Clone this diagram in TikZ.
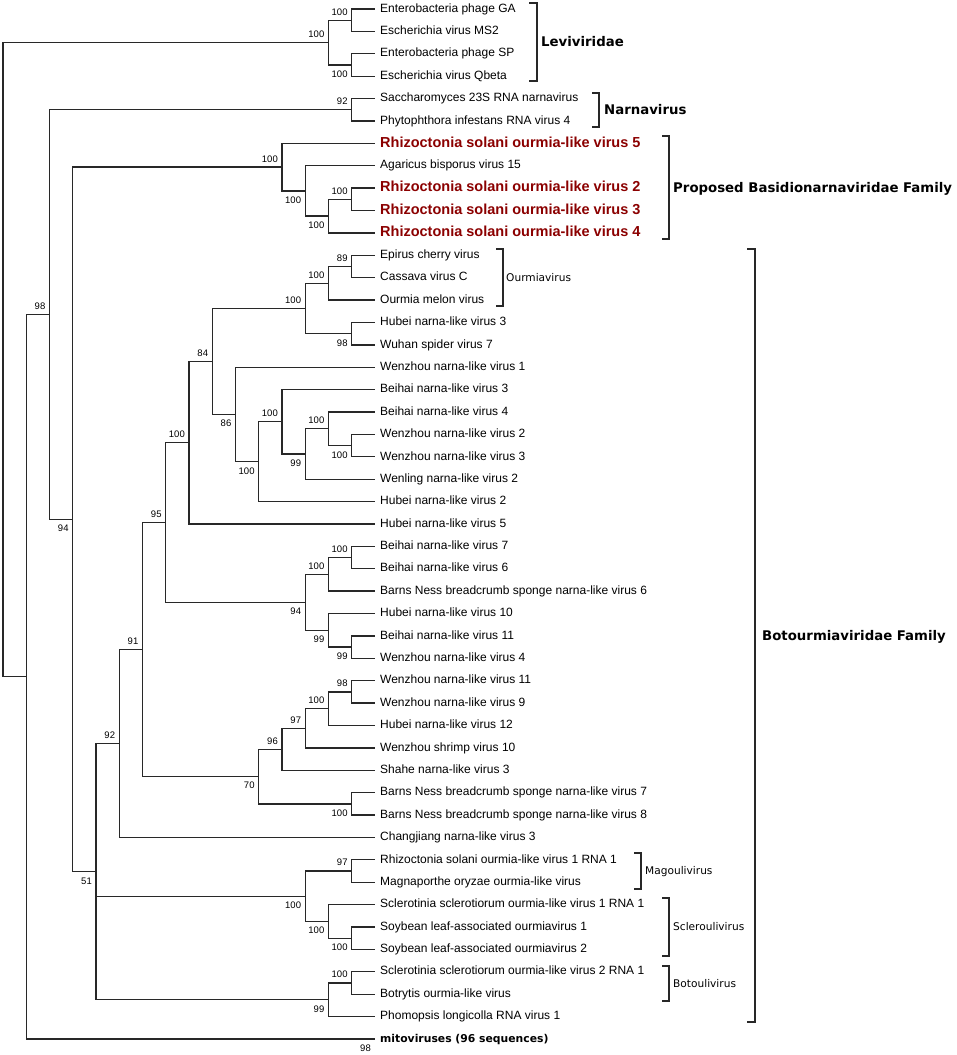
\documentclass[tikz,border=0pt]{standalone}
\usepackage{fontspec}
\setmainfont{Liberation Sans}
\newfontfamily\dvs{DejaVu Sans}
\usetikzlibrary{calc}
\definecolor{rsred}{RGB}{139,0,0}
\definecolor{treeline}{RGB}{40,40,40}
\tikzset{
  branch/.style={draw=treeline, line width=1.3pt},
  bracket/.style={draw=treeline, line width=1.3pt},
  leaf/.style={anchor=west, inner xsep=5pt, inner ysep=0pt, font=\fontsize{12}{14}\selectfont, text height=9pt, text depth=2.6pt},
  redleaf/.style={leaf, font=\fontsize{14.5}{16}\selectfont\bfseries, text=rsred, text height=10.6pt, text depth=3pt},
  mito/.style={leaf, font=\dvs\bfseries\fontsize{10.8}{12}\selectfont, text height=8pt, text depth=1.6pt},
  bs/.style={anchor=east, inner sep=0pt, font=\fontsize{9.5}{10}\selectfont, text height=6.8pt, text depth=0pt},
  grp/.style={anchor=west, inner sep=0pt, font=\dvs\bfseries\fontsize{13.3}{15}\selectfont, text height=9.7pt, text depth=0pt},
  genus/.style={anchor=west, inner sep=0pt, font=\dvs\fontsize{10.6}{12}\selectfont, text height=7.7pt, text depth=0pt},
}
\newcommand{\bsa}[3]{\node[bs] (#3) at ($(#1)+(-4,-8.5)$) {#2};}
\newcommand{\bsb}[3]{\node[bs] (#3) at ($(#1)+(-4,9)$) {#2};}
\begin{document}
\begin{tikzpicture}[x=1pt,y=-1pt]
\useasboundingbox (0,0) rectangle (957,1055);
% ---------- leaves ----------
\node[leaf] (L1) at (375,9.00) {Enterobacteria phage GA};
\node[leaf] (L2) at (375,31.39) {Escherichia virus MS2};
\node[leaf] (L3) at (375,53.78) {Enterobacteria phage SP};
\node[leaf] (L4) at (375,76.17) {Escherichia virus Qbeta};
\node[leaf] (L5) at (375,98.56) {Saccharomyces 23S RNA narnavirus};
\node[leaf] (L6) at (375,120.95) {Phytophthora infestans RNA virus 4};
\node[redleaf] (L7) at (375,143.34) {Rhizoctonia solani ourmia-like virus 5};
\node[leaf] (L8) at (375,165.73) {Agaricus bisporus virus 15};
\node[redleaf] (L9) at (375,188.12) {Rhizoctonia solani ourmia-like virus 2};
\node[redleaf] (L10) at (375,210.51) {Rhizoctonia solani ourmia-like virus 3};
\node[redleaf] (L11) at (375,232.90) {Rhizoctonia solani ourmia-like virus 4};
\node[leaf] (L12) at (375,255.29) {Epirus cherry virus};
\node[leaf] (L13) at (375,277.68) {Cassava virus C};
\node[leaf] (L14) at (375,300.07) {Ourmia melon virus};
\node[leaf] (L15) at (375,322.46) {Hubei narna-like virus 3};
\node[leaf] (L16) at (375,344.85) {Wuhan spider virus 7};
\node[leaf] (L17) at (375,367.24) {Wenzhou narna-like virus 1};
\node[leaf] (L18) at (375,389.63) {Beihai narna-like virus 3};
\node[leaf] (L19) at (375,412.02) {Beihai narna-like virus 4};
\node[leaf] (L20) at (375,434.41) {Wenzhou narna-like virus 2};
\node[leaf] (L21) at (375,456.80) {Wenzhou narna-like virus 3};
\node[leaf] (L22) at (375,479.19) {Wenling narna-like virus 2};
\node[leaf] (L23) at (375,501.58) {Hubei narna-like virus 2};
\node[leaf] (L24) at (375,523.97) {Hubei narna-like virus 5};
\node[leaf] (L25) at (375,546.36) {Beihai narna-like virus 7};
\node[leaf] (L26) at (375,568.75) {Beihai narna-like virus 6};
\node[leaf] (L27) at (375,591.14) {Barns Ness breadcrumb sponge narna-like virus 6};
\node[leaf] (L28) at (375,613.53) {Hubei narna-like virus 10};
\node[leaf] (L29) at (375,635.92) {Beihai narna-like virus 11};
\node[leaf] (L30) at (375,658.31) {Wenzhou narna-like virus 4};
\node[leaf] (L31) at (375,680.70) {Wenzhou narna-like virus 11};
\node[leaf] (L32) at (375,703.09) {Wenzhou narna-like virus 9};
\node[leaf] (L33) at (375,725.48) {Hubei narna-like virus 12};
\node[leaf] (L34) at (375,747.87) {Wenzhou shrimp virus 10};
\node[leaf] (L35) at (375,770.26) {Shahe narna-like virus 3};
\node[leaf] (L36) at (375,792.65) {Barns Ness breadcrumb sponge narna-like virus 7};
\node[leaf] (L37) at (375,815.04) {Barns Ness breadcrumb sponge narna-like virus 8};
\node[leaf] (L38) at (375,837.43) {Changjiang narna-like virus 3};
\node[leaf] (L39) at (375,859.82) {Rhizoctonia solani ourmia-like virus 1 RNA 1};
\node[leaf] (L40) at (375,882.21) {Magnaporthe oryzae ourmia-like virus};
\node[leaf] (L41) at (375,904.60) {Sclerotinia sclerotiorum ourmia-like virus 1 RNA 1};
\node[leaf] (L42) at (375,926.99) {Soybean leaf-associated ourmiavirus 1};
\node[leaf] (L43) at (375,949.38) {Soybean leaf-associated ourmiavirus 2};
\node[leaf] (L44) at (375,971.77) {Sclerotinia sclerotiorum ourmia-like virus 2 RNA 1};
\node[leaf] (L45) at (375,994.16) {Botrytis ourmia-like virus};
\node[leaf] (L46) at (375,1016.55) {Phomopsis longicolla RNA virus 1};
\node[mito] (L47) at (375,1038.94) {mitoviruses (96 sequences)};
% ---------- internal nodes ----------
\coordinate (R) at (3,359.67);
\coordinate (A) at (328.5,42.585);
\coordinate (A1) at (351.75,20.195);
\coordinate (A2) at (351.75,64.975);
\coordinate (N1) at (26.25,676.75);
\coordinate (N2) at (49.5,314.57);
\coordinate (Na) at (351.75,109.755);
\coordinate (N3) at (72.75,519.38);
\coordinate (B) at (282,167.13);
\coordinate (B1) at (305.25,190.92);
\coordinate (B2) at (328.5,216.11);
\coordinate (B3) at (351.75,199.315);
\coordinate (N4) at (96,871.62);
\coordinate (N5) at (119.25,743.49);
\coordinate (N6) at (142.5,649.54);
\coordinate (N7) at (165.75,522.53);
\coordinate (N8) at (189,442.72);
\coordinate (N9) at (212.25,361.47);
\coordinate (N10) at (305.25,308.47);
\coordinate (N10a) at (328.5,283.28);
\coordinate (N10c) at (351.75,266.485);
\coordinate (N10b) at (351.75,333.655);
\coordinate (N11) at (235.5,414.47);
\coordinate (N12) at (258.75,461.70);
\coordinate (N13) at (282,421.82);
\coordinate (N13a) at (305.25,454.00);
\coordinate (N13b) at (328.5,428.81);
\coordinate (N13c) at (351.75,445.605);
\coordinate (N14) at (305.25,602.335);
\coordinate (N15) at (328.5,574.35);
\coordinate (N15a) at (351.75,557.555);
\coordinate (N16) at (328.5,630.32);
\coordinate (N16a) at (351.75,647.115);
\coordinate (N20) at (258.75,776.56);
\coordinate (N21) at (282,749.27);
\coordinate (N22) at (305.25,728.28);
\coordinate (N23) at (328.5,708.69);
\coordinate (N23a) at (351.75,691.895);
\coordinate (N24) at (351.75,803.845);
\coordinate (M) at (305.25,896.20);
\coordinate (Mg) at (351.75,871.015);
\coordinate (Sc) at (328.5,921.39);
\coordinate (Sc2) at (351.75,938.185);
\coordinate (Bo) at (328.5,999.76);
\coordinate (Bo1) at (351.75,982.965);
% ---------- branches ----------
\draw[branch] (R) |- (A);  \draw[branch] (R) |- (N1);
\draw[branch] (A) |- (A1); \draw[branch] (A) |- (A2);
\draw[branch] (A1) |- (L1.west); \draw[branch] (A1) |- (L2.west);
\draw[branch] (A2) |- (L3.west); \draw[branch] (A2) |- (L4.west);
\draw[branch] (N1) |- (N2); \draw[branch] (N1) |- (L47.west);
\draw[branch] (N2) |- (Na); \draw[branch] (N2) |- (N3);
\draw[branch] (Na) |- (L5.west); \draw[branch] (Na) |- (L6.west);
\draw[branch] (N3) |- (B); \draw[branch] (N3) |- (N4);
\draw[branch] (B) |- (L7.west); \draw[branch] (B) |- (B1);
\draw[branch] (B1) |- (L8.west); \draw[branch] (B1) |- (B2);
\draw[branch] (B2) |- (B3); \draw[branch] (B2) |- (L11.west);
\draw[branch] (B3) |- (L9.west); \draw[branch] (B3) |- (L10.west);
\draw[branch] (N4) |- (N5); \draw[branch] (N4) |- (M); \draw[branch] (N4) |- (Bo);
\draw[branch] (N5) |- (N6); \draw[branch] (N5) |- (L38.west);
\draw[branch] (N6) |- (N7); \draw[branch] (N6) |- (N20);
\draw[branch] (N7) |- (N8); \draw[branch] (N7) |- (N14);
\draw[branch] (N8) |- (N9); \draw[branch] (N8) |- (L24.west);
\draw[branch] (N9) |- (N10); \draw[branch] (N9) |- (N11);
\draw[branch] (N10) |- (N10a); \draw[branch] (N10) |- (N10b);
\draw[branch] (N10a) |- (N10c); \draw[branch] (N10a) |- (L14.west);
\draw[branch] (N10c) |- (L12.west); \draw[branch] (N10c) |- (L13.west);
\draw[branch] (N10b) |- (L15.west); \draw[branch] (N10b) |- (L16.west);
\draw[branch] (N11) |- (L17.west); \draw[branch] (N11) |- (N12);
\draw[branch] (N12) |- (N13); \draw[branch] (N12) |- (L23.west);
\draw[branch] (N13) |- (L18.west); \draw[branch] (N13) |- (N13a);
\draw[branch] (N13a) |- (N13b); \draw[branch] (N13a) |- (L22.west);
\draw[branch] (N13b) |- (L19.west); \draw[branch] (N13b) |- (N13c);
\draw[branch] (N13c) |- (L20.west); \draw[branch] (N13c) |- (L21.west);
\draw[branch] (N14) |- (N15); \draw[branch] (N14) |- (N16);
\draw[branch] (N15) |- (N15a); \draw[branch] (N15) |- (L27.west);
\draw[branch] (N15a) |- (L25.west); \draw[branch] (N15a) |- (L26.west);
\draw[branch] (N16) |- (L28.west); \draw[branch] (N16) |- (N16a);
\draw[branch] (N16a) |- (L29.west); \draw[branch] (N16a) |- (L30.west);
\draw[branch] (N20) |- (N21); \draw[branch] (N20) |- (N24);
\draw[branch] (N21) |- (N22); \draw[branch] (N21) |- (L35.west);
\draw[branch] (N22) |- (N23); \draw[branch] (N22) |- (L34.west);
\draw[branch] (N23) |- (N23a); \draw[branch] (N23) |- (L33.west);
\draw[branch] (N23a) |- (L31.west); \draw[branch] (N23a) |- (L32.west);
\draw[branch] (N24) |- (L36.west); \draw[branch] (N24) |- (L37.west);
\draw[branch] (M) |- (Mg); \draw[branch] (M) |- (Sc);
\draw[branch] (Mg) |- (L39.west); \draw[branch] (Mg) |- (L40.west);
\draw[branch] (Sc) |- (L41.west); \draw[branch] (Sc) |- (Sc2);
\draw[branch] (Sc2) |- (L42.west); \draw[branch] (Sc2) |- (L43.west);
\draw[branch] (Bo) |- (Bo1); \draw[branch] (Bo) |- (L46.west);
\draw[branch] (Bo1) |- (L44.west); \draw[branch] (Bo1) |- (L45.west);
% ---------- bootstrap values ----------
\bsa{A1}{100}{bA1} \bsb{A2}{100}{bA2} \bsa{A}{100}{bA}
\bsa{Na}{92}{bNa}
\bsa{N2}{98}{bN2} \bsb{N3}{94}{bN3}
\bsa{B}{100}{bB} \bsb{B1}{100}{bB1} \bsb{B2}{100}{bB2} \bsa{B3}{100}{bB3}
\bsb{N4}{51}{bN4}
\bsa{N5}{92}{bN5} \bsa{N6}{91}{bN6} \bsa{N7}{95}{bN7} \bsa{N8}{100}{bN8} \bsa{N9}{84}{bN9}
\bsa{N10}{100}{bN10} \bsa{N10a}{100}{bN10a} \bsa{N10c}{89}{bN10c} \bsb{N10b}{98}{bN10b}
\bsb{N11}{86}{bN11} \bsb{N12}{100}{bN12} \bsa{N13}{100}{bN13} \bsb{N13a}{99}{bN13a}
\bsa{N13b}{100}{bN13b} \bsb{N13c}{100}{bN13c}
\bsb{N14}{94}{bN14} \bsa{N15}{100}{bN15} \bsa{N15a}{100}{bN15a} \bsb{N16}{99}{bN16} \bsb{N16a}{99}{bN16a}
\bsb{N20}{70}{bN20} \bsa{N21}{96}{bN21} \bsa{N22}{97}{bN22} \bsa{N23}{100}{bN23} \bsa{N23a}{98}{bN23a}
\bsb{N24}{100}{bN24}
\bsb{M}{100}{bM} \bsa{Mg}{97}{bMg} \bsb{Sc}{100}{bSc} \bsb{Sc2}{100}{bSc2}
\bsb{Bo}{99}{bBo} \bsa{Bo1}{100}{bBo1}
\bsb{L47.west}{98}{bL47}
% ---------- brackets and group labels ----------
\draw[bracket] (529,3) -- (537,3) -- (537,81) -- (529,81);
\node[grp] (gLevi) at (541,42) {Leviviridae};
\draw[bracket] (592,93) -- (599,93) -- (599,127) -- (592,127);
\node[grp] (gNarna) at (604,110) {Narnavirus};
\draw[bracket] (662,136) -- (669,136) -- (669,239) -- (662,239);
\node[grp] (gBasid) at (673,187.5) {Proposed Basidionarnaviridae Family};
\draw[bracket] (496,249) -- (503,249) -- (503,306) -- (496,306);
\node[genus] (gOurm) at (506,277.5) {Ourmiavirus};
\draw[bracket] (747,249) -- (755,249) -- (755,1022) -- (747,1022);
\node[grp] (gBotou) at (762,635.5) {Botourmiaviridae Family};
\draw[bracket] (634,853) -- (641,853) -- (641,889) -- (634,889);
\node[genus] (gMag) at (645,871) {Magoulivirus};
\draw[bracket] (662,898) -- (669,898) -- (669,956) -- (662,956);
\node[genus] (gScl) at (673,927) {Scleroulivirus};
\draw[bracket] (662,966) -- (669,966) -- (669,1001) -- (662,1001);
\node[genus] (gBot) at (673,983.5) {Botoulivirus};
\end{tikzpicture}
\end{document}
